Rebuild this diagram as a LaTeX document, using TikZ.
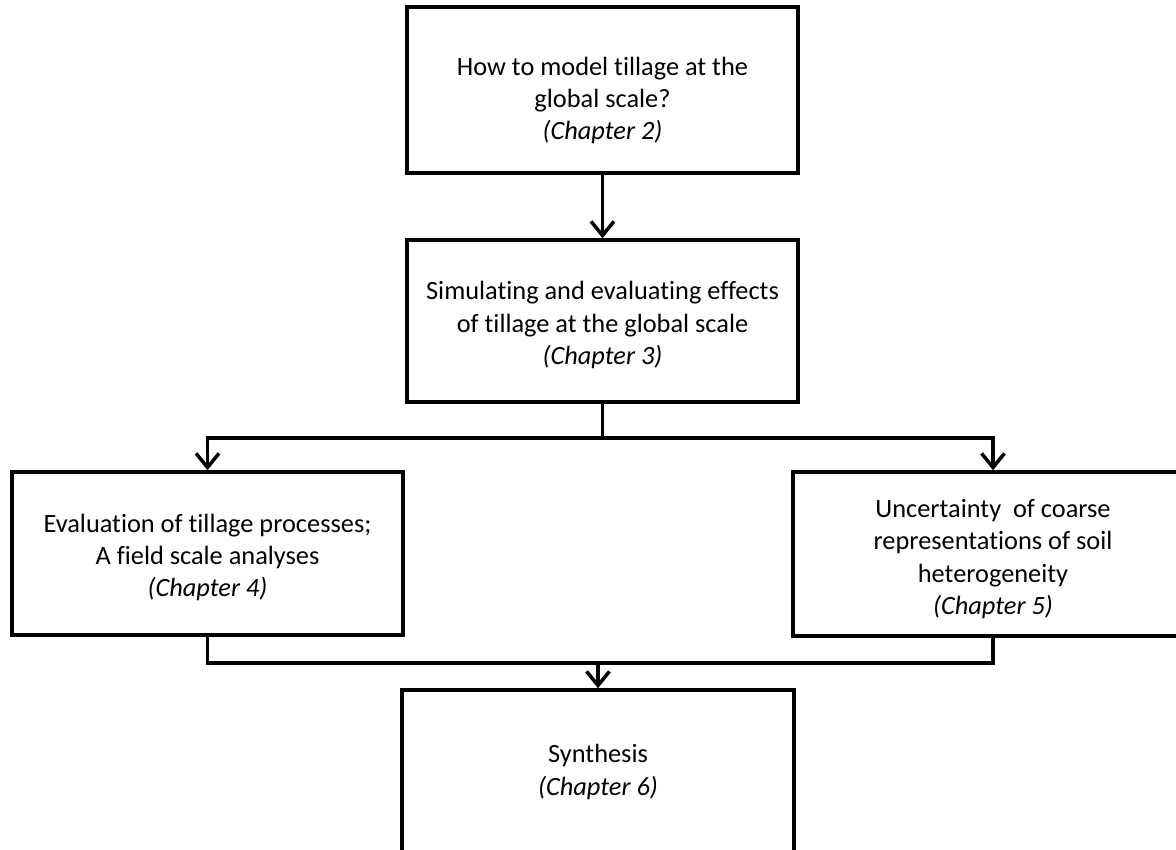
\documentclass[tikz,border=0pt]{standalone}
\usepackage{fontspec}
\setmainfont{Carlito}[Ligatures=NoCommon]
\usetikzlibrary{arrows.meta}

\begin{document}
\begin{tikzpicture}[x=0.02cm, y=-0.02cm,
    chapbox/.style={draw, line width=2pt, minimum width=391*0.02cm, inner sep=0pt,
        align=center, font=\fontsize{15}{18.3}\selectfont},
    link/.style={line width=2pt},
    arr/.style={link, -{Straight Barb[length=8pt, width=13pt, line width=2pt]}}]
\useasboundingbox (0,0) rectangle (1176,849);
\clip (0,0) rectangle (1176,849);
% boxes
\node[chapbox, minimum height=166*0.02cm] (ch2) at (602.5,90)
    {\rule{0pt}{22pt}How to model tillage at the\\ global scale?\\ \textit{(Chapter 2)}};
\node[chapbox, minimum height=162*0.02cm] (ch3) at (602.5,321)
    {\rule{0pt}{15pt}Simulating and evaluating effects\\ of tillage at the global scale\\ \textit{(Chapter 3)}};
\node[chapbox, minimum height=163*0.02cm] (ch4) at (207.5,553.5)
    {\rule{0pt}{15pt}Evaluation of tillage processes;\\ A field scale analyses\\ \textit{(Chapter 4)}};
\node[chapbox, minimum width=400*0.02cm, minimum height=164*0.02cm] (ch5) at (993,554)
    {\rule{0pt}{16pt}Uncertainty\ \ of coarse\\ representations of soil\\ heterogeneity\\ \textit{(Chapter 5)}};
\node[chapbox, minimum width=392*0.02cm, minimum height=164*0.02cm] (ch6) at (598,772)
    {Synthesis\\ \textit{(Chapter 6)}};
% connectors
\coordinate (split) at (602.5,438);
\coordinate (join) at (598,663);
\draw[arr] (ch2) -- (ch3);
\draw[link] (ch3.south) -- (split);
\draw[arr] (split) -| (ch4.north);
\draw[arr] (split) -| (ch5.north);
\draw[link] (ch4.south) |- (join) -| (ch5.south);
\draw[arr] (join) -- (ch6.north);
\end{tikzpicture}
\end{document}
